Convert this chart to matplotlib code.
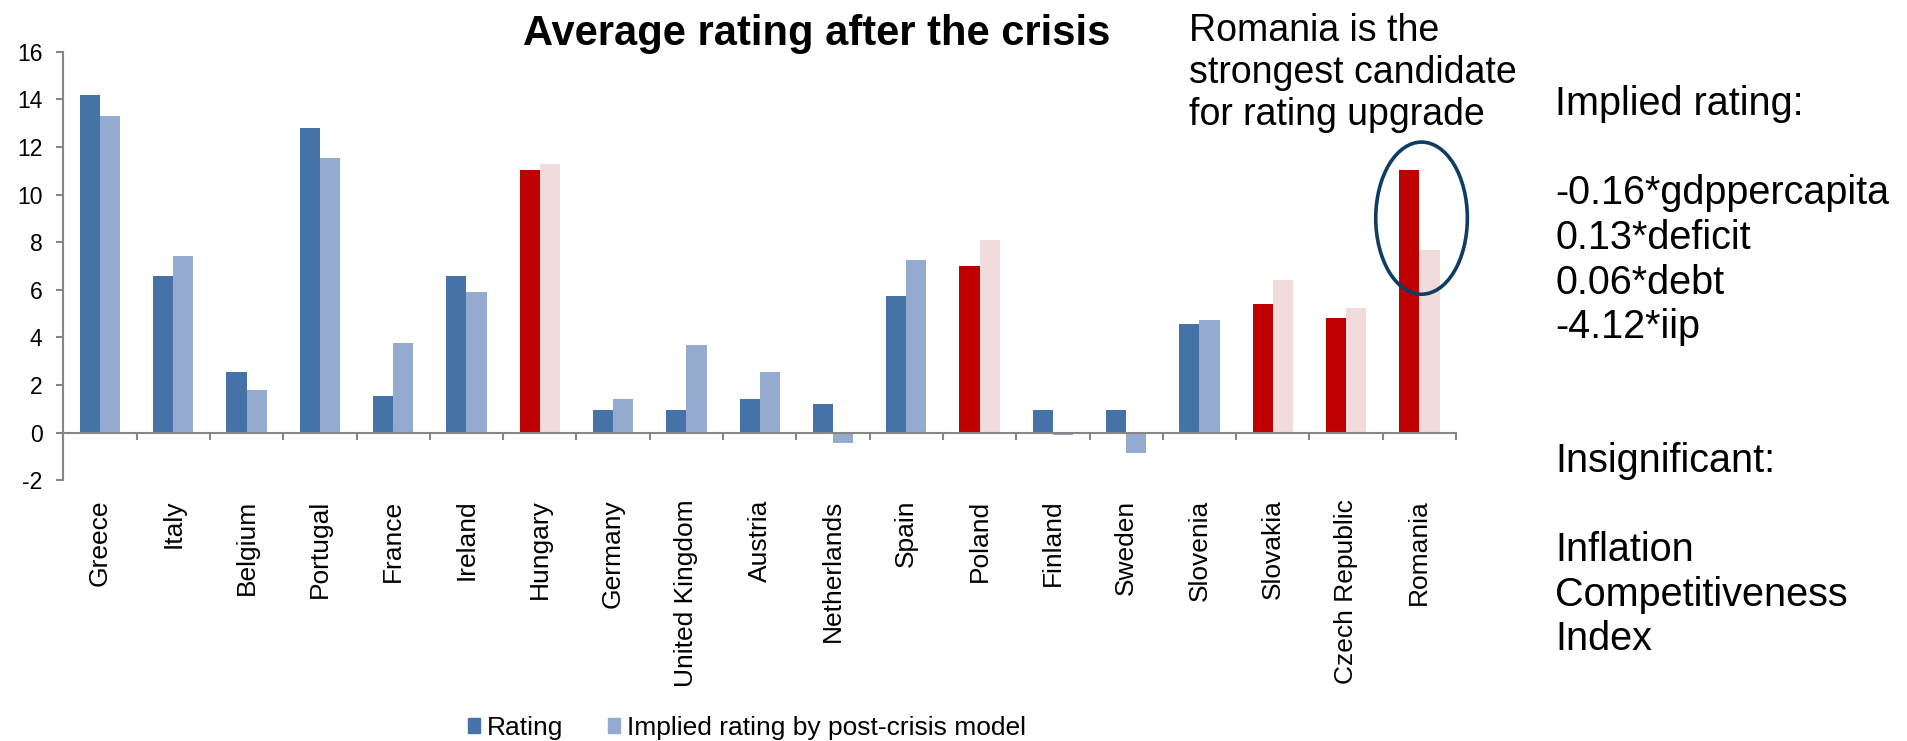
import matplotlib.pyplot as plt
from matplotlib.patches import Ellipse, Patch
from matplotlib.transforms import blended_transform_factory

countries = ['Greece', 'Italy', 'Belgium', 'Portugal', 'France', 'Ireland', 'Hungary',
             'Germany', 'United Kingdom', 'Austria', 'Netherlands', 'Spain', 'Poland',
             'Finland', 'Sweden', 'Slovenia', 'Slovakia', 'Czech Republic', 'Romania']
rating = [14.2, 6.6, 2.55, 12.8, 1.55, 6.6, 11.05, 0.97, 0.97, 1.4, 1.22, 5.76, 7.0,
          0.97, 0.97, 4.58, 5.41, 4.82, 11.05]
implied = [13.3, 7.43, 1.8, 11.54, 3.75, 5.92, 11.3, 1.4, 3.67, 2.56, -0.44, 7.26, 8.1,
           -0.1, -0.87, 4.74, 6.42, 5.24, 7.67]
highlight = ['Hungary', 'Poland', 'Slovakia', 'Czech Republic', 'Romania']

RATING_BLUE = '#4673A7'
IMPLIED_BLUE = '#95AACF'
RATING_RED = '#C00000'
IMPLIED_PINK = '#F2DBDB'
AXIS_GRAY = '#868686'

plt.rcParams['font.family'] = ['Liberation Sans', 'DejaVu Sans']
plt.rcParams['axes.unicode_minus'] = False


def main():
    fig = plt.figure(figsize=(19.08, 7.41), dpi=100)
    ax = fig.add_axes([0.0332, 0.3518, 0.7299, 0.5784])

    n = len(countries)
    centers = [i + 0.5 for i in range(n)]
    w = 0.275
    c1 = [RATING_RED if c in highlight else RATING_BLUE for c in countries]
    c2 = [IMPLIED_PINK if c in highlight else IMPLIED_BLUE for c in countries]
    ax.bar([x - w / 2 for x in centers], rating, width=w, color=c1, zorder=2)
    ax.bar([x + w / 2 for x in centers], implied, width=w, color=c2, zorder=2)

    ax.set_xlim(0, n)
    ax.set_ylim(-2, 16)
    ax.set_yticks(range(-2, 17, 2))
    ax.set_xticks(range(0, n + 1))
    ax.set_xticklabels([])

    for side in ['top', 'right']:
        ax.spines[side].set_visible(False)
    ax.spines['bottom'].set_position(('data', 0))
    ax.spines['bottom'].set_zorder(3)
    for side in ['left', 'bottom']:
        ax.spines[side].set_color(AXIS_GRAY)
        ax.spines[side].set_linewidth(1.5)
    ax.tick_params(axis='both', colors=AXIS_GRAY, width=1.5, length=5, direction='out')
    ax.tick_params(axis='y', labelcolor='black', labelsize=16.5, pad=10)

    # category names sit below the plot area, not at the zero line
    trans = blended_transform_factory(ax.transData, ax.transAxes)
    for x, name in zip(centers, countries):
        ax.text(x, -0.045, name, transform=trans, rotation=90, ha='center', va='top',
                fontsize=19)

    ax.add_patch(Ellipse((18.53, 9.01), 1.25, 6.39, fill=False, edgecolor='#0E3D63',
                         linewidth=2.6, zorder=4, clip_on=False))

    fig.text(0.428, 0.939, 'Average rating after the crisis', ha='center', va='baseline',
             fontsize=30, fontweight='bold')
    fig.text(0.623, 0.982, 'Romania is the\nstrongest candidate\nfor rating upgrade',
             ha='left', va='top', fontsize=27)
    fig.text(0.815, 0.885,
             'Implied rating:\n\n-0.16*gdppercapita\n0.13*deficit\n0.06*debt\n-4.12*iip'
             '\n\n\nInsignificant:\n\nInflation\nCompetitiveness\nIndex',
             ha='left', va='top', fontsize=28.5, linespacing=1.22)

    handles = [Patch(color=RATING_BLUE, label='Rating'),
               Patch(color=IMPLIED_BLUE, label='Implied rating by post-crisis model')]
    fig.legend(handles=handles, loc='center', bbox_to_anchor=(0.3915, 0.0175), ncol=2,
               frameon=False, fontsize=19, handlelength=0.46, handleheight=0.46,
               handletextpad=0.27, columnspacing=1.7)

    fig.savefig('out.png', dpi=100)


if __name__ == '__main__':
    main()
